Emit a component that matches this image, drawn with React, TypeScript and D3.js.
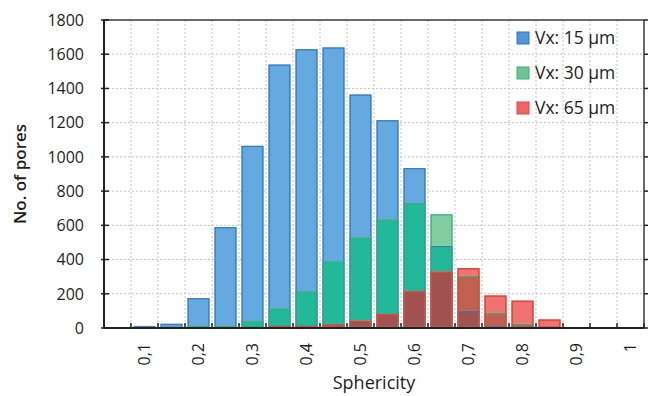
import React from "react";
import * as d3 from "d3";

const categories = ["0.05","0.1","0.15","0.2","0.25","0.3","0.35","0.4","0.45","0.5","0.55","0.6","0.65","0.7","0.75","0.8","0.85","0.9","0.95","1"];
const tickLabels = ["0,1","0,2","0,3","0,4","0,5","0,6","0,7","0,8","0,9","1"];
const tickLabelCats = ["0.1","0.2","0.3","0.4","0.5","0.6","0.7","0.8","0.9","1"];
const vx15 = [0,8,25,175,590,1065,1540,1630,1640,1365,1215,935,480,100,10,0,0,0,0,0];
const vx30 = [0,0,0,2,10,40,115,215,390,530,635,730,665,305,88,25,0,0,0,0];
const vx65 = [0,0,0,0,0,0,3,8,22,43,82,215,330,350,190,160,50,0,0,0];
const yTicks = [0,200,400,600,800,1000,1200,1400,1600,1800];
const seriesNames = ["Vx: 15 µm","Vx: 30 µm","Vx: 65 µm"];

const W = 652, H = 396;
const L = 104, R = 644, T = 20, B = 328;

const segColors: Record<string, string> = {
  "B": "#64aae1",
  "G": "#80cea2",
  "BG": "#22b99a",
  "R": "#f07272",
  "GR": "#c26050",
  "BGR": "#a2524f",
  "BR": "#a06ea0",
};
const strokeColors = ["#3474bb", "#3aae7a", "#e2443a"];
const legendFill = ["#4f97d8", "#6cc592", "#ee6464"];

export default function App() {
  const x = d3.scaleBand<string>().domain(categories).range([L, R]).paddingInner(0.18).paddingOuter(0.09);
  const y = d3.scaleLinear().domain([0, 1800]).range([B, T]);
  const step = (R - L) / categories.length;
  const bounds = d3.range(categories.length + 1).map((i) => L + i * step);
  const series = [vx15, vx30, vx65];
  const keys = ["B", "G", "R"];

  const segs: { x: number; y0: number; y1: number; color: string; k: string }[] = [];
  categories.forEach((c, i) => {
    const vals = series.map((s) => s[i]);
    const br = Array.from(new Set([0, ...vals.filter((v) => v > 0)])).sort((a, b) => a - b);
    for (let j = 0; j < br.length - 1; j++) {
      const lo = br[j], hi = br[j + 1];
      const key = keys.filter((_, si) => vals[si] >= hi).join("");
      segs.push({ x: x(c)!, y0: y(lo), y1: y(hi), color: segColors[key] || "#888", k: c + "-" + j });
    }
  });

  const font = "'Open Sans', sans-serif";
  return (
    <svg width={W} height={H} style={{ position: "absolute", left: 0, top: 0, background: "#fff" }}>
      {/* grid */}
      <g stroke="#c4c4c4" strokeWidth={1} strokeDasharray="2,2">
        {yTicks.slice(1, -1).map((t) => (
          <line key={"h" + t} x1={L} x2={R} y1={y(t)} y2={y(t)} />
        ))}
        {bounds.slice(1, -1).map((bx, i) => (
          <line key={"v" + i} x1={bx} x2={bx} y1={T} y2={B} />
        ))}
      </g>
      {/* bars */}
      {segs.map((s) => (
        <rect key={s.k} x={s.x} y={s.y1} width={x.bandwidth()} height={s.y0 - s.y1} fill={s.color} />
      ))}
      {series.map((s, si) =>
        categories.map((c, i) =>
          s[i] > 0 ? (
            <rect key={si + "-" + c} x={x(c)! + 0.7} y={Math.min(y(s[i]) + 0.7, B - 1.5)} width={x.bandwidth() - 1.4}
              height={Math.max(1.5, B - y(s[i]) - 1.4)} fill="none" stroke={strokeColors[si]}
              strokeWidth={si === 2 ? 1.6 : 1.3} strokeOpacity={si === 0 ? 0.85 : 0.9} />
          ) : null
        )
      )}
      {/* frame */}
      <rect x={L} y={T} width={R - L} height={B - T} fill="none" stroke="#3a3a3a" strokeWidth={1.5} />
      <line x1={L} x2={R} y1={B} y2={B} stroke="#222" strokeWidth={2} />
      <line x1={L} x2={L} y1={T} y2={B} stroke="#222" strokeWidth={2} />
      {/* ticks */}
      <g stroke="#222" strokeWidth={1.5}>
        {yTicks.map((t) => (
          <line key={"yl" + t} x1={L - 3} x2={L + 5} y1={y(t)} y2={y(t)} />
        ))}
        {yTicks.map((t) => (
          <line key={"yr" + t} x1={R} x2={R + 4} y1={y(t)} y2={y(t)} />
        ))}
        {bounds.map((bx, i) => (
          <line key={"xt" + i} x1={bx} x2={bx} y1={B} y2={B - 5} />
        ))}
      </g>
      {/* y tick labels */}
      {yTicks.map((t) => (
        <text key={"yt" + t} x={84} y={y(t)} dy="0.36em" textAnchor="end" fontFamily={font} fontSize={16} fill="#1e1e1e">
          {t}
        </text>
      ))}
      {/* x tick labels */}
      {tickLabelCats.map((c, i) => {
        const cx = x(c)! + x.bandwidth() / 2;
        return (
          <text key={"xl" + c} transform={`translate(${cx},${B + 15}) rotate(-90)`} textAnchor="end"
            dy="0.36em" fontFamily={font} fontSize={16} fill="#1e1e1e">
            {tickLabels[i]}
          </text>
        );
      })}
      {/* axis titles */}
      <text transform={`translate(26,${(T + B) / 2}) rotate(-90)`} textAnchor="middle" fontFamily={font}
        fontSize={17} fontWeight={600} fill="#1e1e1e">No. of pores</text>
      <text x={(L + R) / 2} y={389} textAnchor="middle" fontFamily={font} fontSize={18} fill="#1e1e1e">Sphericity</text>
      {/* legend */}
      {seriesNames.map((n, i) => (
        <g key={n} transform={`translate(517,${32 + i * 35})`}>
          <rect x={0} y={0} width={12} height={12} fill={legendFill[i]} stroke={strokeColors[i]} strokeWidth={1} />
          <text x={18} y={6} dy="0.36em" fontFamily={font} fontSize={17.5} fill="#1e1e1e">{n}</text>
        </g>
      ))}
    </svg>
  );
}
